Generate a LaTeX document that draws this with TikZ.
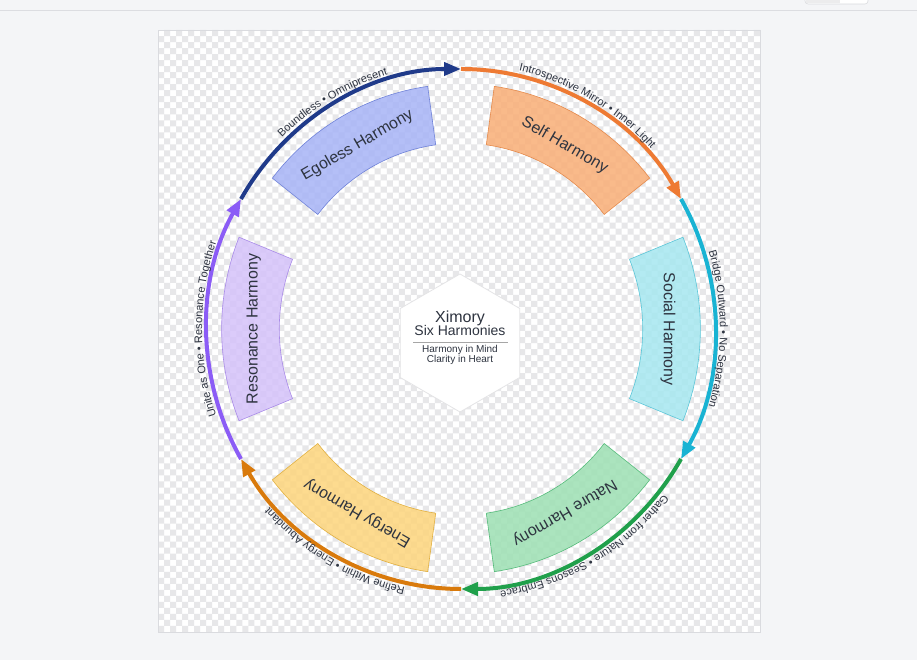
\documentclass[tikz,border=0pt]{standalone}
\usepackage{fontspec}
\setmainfont{Liberation Sans}
\usetikzlibrary{arrows.meta,decorations.text}
\definecolor{pagebg}{HTML}{F4F5F7}
\definecolor{barline}{HTML}{DCDDE1}
\definecolor{checkgray}{HTML}{E7E7E9}
\definecolor{panelbord}{HTML}{DADBDF}
\definecolor{hexbord}{HTML}{E4E4E6}
\definecolor{txtcol}{HTML}{2E3440}
\definecolor{lblcol}{HTML}{2F3542}
% arcs
\definecolor{egoarc}{HTML}{1F3A8A}
\definecolor{selfarc}{HTML}{EE7A33}
\definecolor{socarc}{HTML}{19B3D3}
\definecolor{natarc}{HTML}{20A04B}
\definecolor{enarc}{HTML}{D97A0C}
\definecolor{resarc}{HTML}{8B5CF6}
% bands
\definecolor{egoband}{HTML}{A7B4F6}
\definecolor{egobord}{HTML}{6F82D8}
\definecolor{selfband}{HTML}{F9AE76}
\definecolor{selfbord}{HTML}{E58A4C}
\definecolor{socband}{HTML}{A6E7F0}
\definecolor{socbord}{HTML}{5CC6D8}
\definecolor{natband}{HTML}{9DE0B3}
\definecolor{natbord}{HTML}{55BB7A}
\definecolor{enband}{HTML}{FDD57C}
\definecolor{enbord}{HTML}{E2B040}
\definecolor{resband}{HTML}{D5C2FA}
\definecolor{resbord}{HTML}{A98BE8}
\newcommand\lblfont{\fontsize{11}{13}\selectfont}
\tikzset{
  band/.style={line width=0.6pt, fill opacity=0.85},
  bandtext/.style={text=txtcol, font=\fontsize{16}{19}\selectfont, inner sep=0pt},
  ring/.style={line width=4pt, -{Triangle[length=17pt,width=13pt]}},
  arclbl/.style={decorate, decoration={text along path, text align=center, text color=lblcol}},
}
\begin{document}
\begin{tikzpicture}[x=1pt,y=1pt]
\useasboundingbox (0,0) rectangle (917,660);
\fill[pagebg] (0,0) rectangle (917,660);
\draw[barline, line width=0.8pt] (0,649.5) -- (917,649.5);
\draw[panelbord, fill=white, line width=0.6pt, rounded corners=3pt] (805,656) rectangle (868,668);
\fill[checkgray!80] (806,656.5) rectangle (840,667);
% panel
\fill[white] (158,28) rectangle (760,630);
\fill[checkgray] \foreach \i in {0,2,...,98} {\foreach \j in {0,2,...,98} {
  (158+\i*6.02, 28+\j*6.02) rectangle ++(6.02,6.02)
  (164.02+\i*6.02, 34.02+\j*6.02) rectangle ++(6.02,6.02)}};
\draw[panelbord, line width=0.8pt] (158,28) rectangle (760,630);

\begin{scope}[shift={(461,331)}, xscale=0.977]
% bands
\draw[band, fill=egoband, draw=egobord] (98:186) arc[start angle=98,end angle=142,radius=186] -- (142:245) arc[start angle=142,end angle=98,radius=245] -- cycle;
\draw[band, fill=selfband, draw=selfbord] (38:186) arc[start angle=38,end angle=82,radius=186] -- (82:245) arc[start angle=82,end angle=38,radius=245] -- cycle;
\draw[band, fill=socband, draw=socbord] (-22:186) arc[start angle=-22,end angle=22,radius=186] -- (22:245) arc[start angle=22,end angle=-22,radius=245] -- cycle;
\draw[band, fill=natband, draw=natbord] (-82:186) arc[start angle=-82,end angle=-38,radius=186] -- (-38:245) arc[start angle=-38,end angle=-82,radius=245] -- cycle;
\draw[band, fill=enband, draw=enbord] (-142:186) arc[start angle=-142,end angle=-98,radius=186] -- (-98:245) arc[start angle=-98,end angle=-142,radius=245] -- cycle;
\draw[band, fill=resband, draw=resbord] (158:186) arc[start angle=158,end angle=202,radius=186] -- (202:245) arc[start angle=202,end angle=158,radius=245] -- cycle;
% band labels
\node[bandtext, rotate=30] (ego) at (120:212) {Egoless Harmony};
\node[bandtext, rotate=-30] (self) at (60:212) {Self Harmony};
\node[bandtext, rotate=-90] (soc) at (0:212) {Social Harmony};
\node[bandtext, rotate=-150] (nat) at (-60:212) {Nature Harmony};
\node[bandtext, rotate=150] (en) at (-120:212) {Energy Harmony};
\node[bandtext, rotate=90] (res) at (180:212) {Resonance Harmony};
% ring arcs
\draw[ring, egoarc] (150:260) arc[start angle=150,end angle=90,radius=260];
\draw[ring, selfarc] (90:260) arc[start angle=90,end angle=30,radius=260];
\draw[ring, socarc] (30:260) arc[start angle=30,end angle=-30,radius=260];
\draw[ring, natarc] (-30:260) arc[start angle=-30,end angle=-90,radius=260];
\draw[ring, enarc] (-90:260) arc[start angle=-90,end angle=-150,radius=260];
\draw[ring, resarc] (-150:260) arc[start angle=-150,end angle=-210,radius=260];
% ring labels
\path[arclbl, decoration={text={|\lblfont|Boundless • Omnipresent}}] (150:265) arc[start angle=150,end angle=90,radius=265];
\path[arclbl, decoration={text={|\lblfont|Introspective Mirror • Inner Light}}] (90:265) arc[start angle=90,end angle=30,radius=265];
\path[arclbl, decoration={text={|\lblfont|Bridge Outward • No Separation}}] (30:265) arc[start angle=30,end angle=-30,radius=265];
\path[arclbl, decoration={text={|\lblfont|Gather from Nature • Seasons Embrace}}] (-30:265) arc[start angle=-30,end angle=-90,radius=265];
\path[arclbl, decoration={text={|\lblfont|Refine Within • Energy Abundant}}] (-90:265) arc[start angle=-90,end angle=-150,radius=265];
\path[arclbl, decoration={text={|\lblfont|Unite as One • Resonance Together}}] (-150:265) arc[start angle=-150,end angle=-210,radius=265];
\end{scope}

% center hexagon
\draw[hexbord, fill=white, line width=0.8pt] (460,317) +(90:69) -- +(150:69) -- +(210:69) -- +(270:69) -- +(330:69) -- +(30:69) -- cycle;
\node[anchor=base, text=txtcol, font=\fontsize{16}{19}\selectfont, inner sep=0pt] (title) at (460,337.3) {Ximory};
\node[anchor=base, text=txtcol, font=\fontsize{14}{17}\selectfont, inner sep=0pt] (sub) at (460,324) {Six Harmonies};
\coordinate (ruleL) at (413,317.7);
\coordinate (ruleR) at (508,317.7);
\draw[gray!70, line width=0.7pt] (ruleL) -- (ruleR);
\node[anchor=base, text=txtcol, font=\fontsize{10}{12}\selectfont, inner sep=0pt] (m1) at (460,307.3) {Harmony in Mind};
\node[anchor=base, text=txtcol, font=\fontsize{10}{12}\selectfont, inner sep=0pt] (m2) at (460,297.3) {Clarity in Heart};
\end{tikzpicture}
\end{document}
